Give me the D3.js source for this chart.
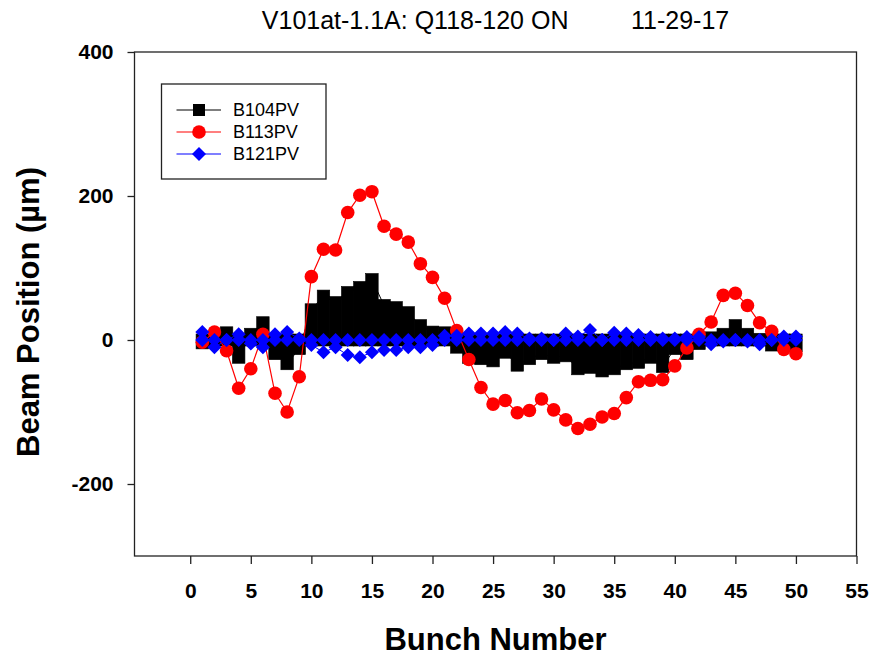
<!DOCTYPE html>
<html lang="en">
<head>
<meta charset="UTF-8">
<title>V101at-1.1A: Q118-120 ON</title>
<style>
    body { margin: 0; background: #fff; }
    svg { font-family: "Liberation Sans", Arial, Helvetica, sans-serif; }
</style>
</head>
<body>
<script src="https://cdn.jsdelivr.net/npm/d3@7"></script>
<div id="chart"></div>
<script>
    // bunch numbers and the three BPM readings (um)
    const bunches = [1, 2, 3, 4, 5, 6, 7, 8, 9, 10,
        11, 12, 13, 14, 15, 16, 17, 18, 19, 20,
        21, 22, 23, 24, 25, 26, 27, 28, 29, 30,
        31, 32, 33, 34, 35, 36, 37, 38, 39, 40,
        41, 42, 43, 44, 45, 46, 47, 48, 49, 50]
    const b104pv = [-4, 0, 10, -24, 8, 24, -19, -33, -12, 42,
        61, 52, 66, 73, 84, 48, 45, 38, 20, 11,
        10, -10, -24, -26, -29, -17, -35, -26, -19, -24,
        -22, -40, -38, -43, -40, -33, -31, -24, -37, -12,
        -19, -5, 3, 8, 20, 8, 1, -7, -3, -8]
    const b113pv = [-3, 11, -15, -67, -40, 8, -74, -100, -51, 88,
        126, 125, 177, 201, 206, 158, 147, 136, 106, 87,
        58, 13, -27, -66, -89, -84, -101, -98, -82, -97,
        -111, -123, -117, -107, -102, -80, -58, -56, -55, -36,
        -11, 8, 25, 62, 65, 48, 24, 12, -13, -19]
    const b121pv = [11, -10, 0, 8, -5, -10, 8, 11, 2, -7,
        -17, -10, -21, -24, -17, -14, -14, -10, -10, -7,
        6, 6, 9, 9, 9, 11, 9, 2, 2, 0,
        9, 5, 14, 0, 10, 9, 7, 4, 2, 2,
        4, 4, -6, -2, 0, -2, -6, 0, 5, 5]
    const seriesNames = ["B104PV", "B113PV", "B121PV"]
    const xTicks = [0, 5, 10, 15, 20, 25, 30, 35, 40, 45, 50, 55]
    const yTicks = [-200, 0, 200, 400]

    const WIDTH = 884
    const HEIGHT = 656
    const PLOT = { LEFT: 134.5, RIGHT: 856.5, TOP: 52, BOTTOM: 556 }

    const svg = d3.select("#chart")
        .append("svg")
        .attr("width", WIDTH)
        .attr("height", HEIGHT)

    const x = d3.scaleLinear()
        .domain([-4.6, 55])
        .range([PLOT.LEFT, PLOT.RIGHT])

    const y = d3.scaleLinear()
        .domain([-300, 400])
        .range([PLOT.BOTTOM, PLOT.TOP])

    // title
    svg.append("text")
        .attr("x", 495.5)
        .attr("y", 29)
        .attr("text-anchor", "middle")
        .style("font-size", "25px")
        .style("white-space", "pre")
        .text("V101at-1.1A: Q118-120 ON         11-29-17")

    // axes
    const tickFont = sel => sel
        .attr("fill", "#000")
        .style("font-size", "21px")
        .style("font-weight", "bold")
        .style("font-family", "'Liberation Sans', Arial, sans-serif")

    const yAxis = svg.append("g")
        .attr("transform", `translate(${PLOT.LEFT}, 0)`)
        .call(d3.axisLeft(y).tickValues(yTicks).tickFormat(d => String(d)).tickSize(7).tickPadding(14))
    yAxis.select(".domain").remove()
    yAxis.selectAll("line").attr("stroke", "#222").attr("stroke-width", 1.3)
    yAxis.selectAll("text").call(tickFont)

    const xAxis = svg.append("g")
        .attr("transform", `translate(0, ${PLOT.BOTTOM})`)
        .call(d3.axisBottom(x).tickValues(xTicks).tickFormat(d => String(d)).tickSize(8).tickPadding(19))
    xAxis.select(".domain").remove()
    xAxis.selectAll("line").attr("stroke", "#222").attr("stroke-width", 1.3)
    xAxis.selectAll("text").call(tickFont)

    svg.append("rect")
        .attr("x", PLOT.LEFT)
        .attr("y", PLOT.TOP)
        .attr("width", PLOT.RIGHT - PLOT.LEFT)
        .attr("height", PLOT.BOTTOM - PLOT.TOP)
        .attr("fill", "none")
        .attr("stroke", "#222")
        .attr("stroke-width", 1.3)

    svg.append("text")
        .attr("x", (PLOT.LEFT + PLOT.RIGHT) / 2)
        .attr("y", 650)
        .attr("text-anchor", "middle")
        .style("font-size", "31px")
        .style("font-weight", "bold")
        .text("Bunch Number")

    svg.append("text")
        .attr("transform", `translate(39, ${(PLOT.TOP + PLOT.BOTTOM) / 2 + 8}) rotate(-90)`)
        .attr("text-anchor", "middle")
        .style("font-size", "31px")
        .style("font-weight", "bold")
        .text("Beam Position (\u00b5m)")

    // markers
    const SQ = 12.5
    const DH = 7
    const diamond = (cx, cy) => `M ${cx},${cy - DH} L ${cx + DH},${cy} L ${cx},${cy + DH} L ${cx - DH},${cy} Z`

    const plot = svg.append("g")

    // B104PV: each bunch's samples run from the baseline to the reading
    plot.append("path")
        .attr("d", d3.line().x(d => x(d)).y((d, i) => y(b104pv[i]))(bunches))
        .attr("fill", "none")
        .attr("stroke", "#000")
        .attr("stroke-width", 1)
    plot.selectAll("rect.b104")
        .data(bunches)
        .join("rect")
        .attr("class", "b104")
        .attr("x", d => x(d) - SQ / 2)
        .attr("width", SQ)
        .attr("y", (d, i) => Math.min(y(b104pv[i]), y(0)) - 6)
        .attr("height", (d, i) => Math.abs(y(b104pv[i]) - y(0)) + 12)
        .attr("fill", "#000")
        .attr("stroke", "#000")
        .attr("stroke-width", 0.6)

    // B113PV
    plot.append("path")
        .attr("d", d3.line().x(d => x(d)).y((d, i) => y(b113pv[i]))(bunches))
        .attr("fill", "none")
        .attr("stroke", "#ff0000")
        .attr("stroke-width", 1.2)
    plot.selectAll("circle.b113")
        .data(bunches)
        .join("circle")
        .attr("class", "b113")
        .attr("cx", d => x(d))
        .attr("cy", (d, i) => y(b113pv[i]))
        .attr("r", 6.8)
        .attr("fill", "#ff0000")

    // B121PV
    plot.append("path")
        .attr("d", d3.line().x(d => x(d)).y((d, i) => y(b121pv[i]))(bunches))
        .attr("fill", "none")
        .attr("stroke", "#0000ff")
        .attr("stroke-width", 1)
    plot.selectAll("path.b121base")
        .data(bunches)
        .join("path")
        .attr("class", "b121base")
        .attr("d", d => diamond(x(d), y(0)))
        .attr("fill", "#0000ff")
    plot.selectAll("path.b121")
        .data(bunches)
        .join("path")
        .attr("class", "b121")
        .attr("d", (d, i) => diamond(x(d), y(b121pv[i])))
        .attr("fill", "#0000ff")

    // legend
    const legend = svg.append("g")
    legend.append("rect")
        .attr("x", 161.5)
        .attr("y", 84)
        .attr("width", 164.5)
        .attr("height", 95)
        .attr("fill", "#fff")
        .attr("stroke", "#222")
        .attr("stroke-width", 1.3)
    const colors = ["#000000", "#ff0000", "#0000ff"]
    seriesNames.forEach((name, i) => {
        const ly = 110 + i * 22
        legend.append("line")
            .attr("x1", 176.5).attr("x2", 221)
            .attr("y1", ly).attr("y2", ly)
            .attr("stroke", colors[i])
            .attr("stroke-width", 1.2)
        if (i === 0) {
            legend.append("rect")
                .attr("x", 199 - 6).attr("y", ly - 6)
                .attr("width", 12).attr("height", 12)
                .attr("fill", colors[i])
        } else if (i === 1) {
            legend.append("circle")
                .attr("cx", 199).attr("cy", ly).attr("r", 6.8)
                .attr("fill", colors[i])
        } else {
            legend.append("path")
                .attr("d", diamond(199, ly))
                .attr("fill", colors[i])
        }
        legend.append("text")
            .attr("x", 233)
            .attr("y", ly)
            .attr("dy", "0.36em")
            .style("font-size", "18px")
            .text(name)
    })
</script>
</body>
</html>
